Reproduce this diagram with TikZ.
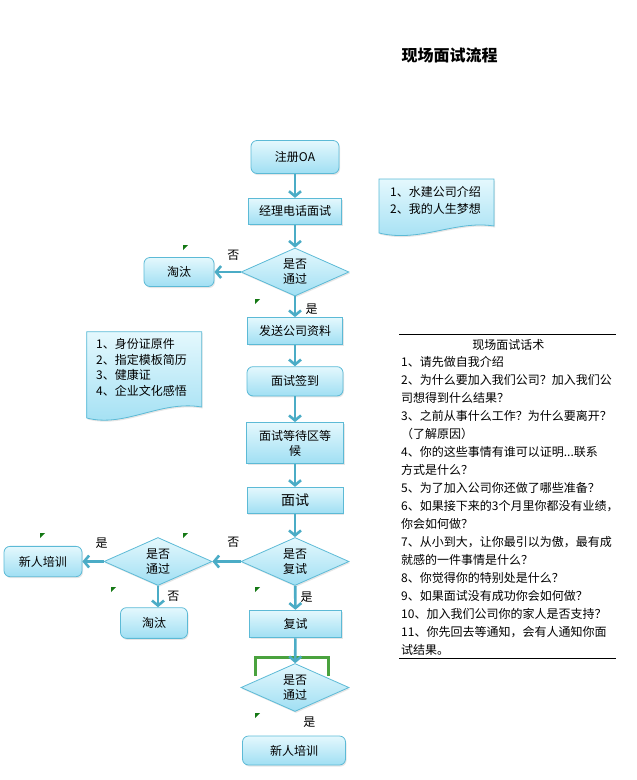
\documentclass[tikz,border=0pt]{standalone}
\usepackage{fontspec}
\setmainfont{Noto Sans CJK SC}
\usepackage{tikz}
\usetikzlibrary{shapes,arrows,positioning,calc,shadows,arrows.meta}
\definecolor{lineblue}{RGB}{75,172,198}
\definecolor{edgeblue}{RGB}{92,186,214}
\definecolor{filltop}{RGB}{228,248,253}
\definecolor{fillbot}{RGB}{160,223,243}
\definecolor{markgreen}{RGB}{20,120,20}
\definecolor{brackgreen}{RGB}{74,162,62}
\newcommand{\flagat}[1]{\fill[markgreen] (#1) -- ++(5,0) -- ++(-5,5) -- cycle;}

\begin{document}
\begin{tikzpicture}[x=1pt,y=-1pt,
    box/.style={draw=edgeblue, line width=0.8pt, top color=filltop, bottom color=fillbot,
        font=\fontsize{12}{15}\selectfont, align=center, inner sep=0pt,
        drop shadow={opacity=0.2, shadow xshift=1pt, shadow yshift=-1.5pt}},
    proc/.style={box, rectangle},
    rproc/.style={box, rounded corners=6pt},
    decide/.style={box, diamond, aspect=2.25, minimum width=108pt, minimum height=48pt},
    flow/.style={lineblue, line width=2.6pt, -{Straight Barb[length=5pt,width=12pt]}},
    yn/.style={font=\fontsize{12}{12}\selectfont, inner sep=0pt},
    doc/.style={draw=edgeblue, line width=0.8pt, top color=filltop, bottom color=fillbot,
        drop shadow={opacity=0.2, shadow xshift=1pt, shadow yshift=-1.5pt}}]
    \useasboundingbox (0,0) rectangle (637,780);

    \node[font=\fontsize{16}{16}\selectfont\bfseries] (title) at (449.7,55) {现场面试流程};

    % green bracket behind the last diamond
    \draw[brackgreen, line width=3pt] (255,676) -- (255,657.3) -- (328.3,657.3) -- (328.3,676);

    % main column
    \node[rproc, minimum width=88pt, minimum height=33pt] (reg) at (295,157) {注册OA};
    \node[proc, minimum width=93pt, minimum height=26pt] (call) at (295,211.3) {经理电话面试};
    \node[decide] (pass1) at (295,272) {是否\\通过};
    \node[rproc, minimum width=70pt, minimum height=29pt] (out1) at (179,272) {淘汰};
    \node[proc, minimum width=95pt, minimum height=27pt] (send) at (295,331) {发送公司资料};
    \node[rproc, minimum width=96pt, minimum height=29.3pt] (sign) at (295,381.3) {面试签到};
    \node[proc, minimum width=97pt, minimum height=41pt] (wait) at (295,443) {面试等待区等\\候};
    \node[proc, minimum width=96pt, minimum height=26pt, font=\fontsize{14}{14}\selectfont] (itv) at (295,500.3) {面试};
    \node[decide] (retest) at (295,561.5) {是否\\复试};
    \node[decide] (pass2) at (158,561.5) {是否\\通过};
    \node[rproc, minimum width=78pt, minimum height=30.3pt] (train1) at (43,561.5) {新人培训};
    \node[rproc, minimum width=67pt, minimum height=30.7pt] (out2) at (154,623) {淘汰};
    \node[proc, minimum width=92pt, minimum height=27.7pt] (redo) at (295.5,624) {复试};
    \node[decide] (pass3) at (295,687.5) {是否\\通过};
    \node[rproc, minimum width=103pt, minimum height=29pt] (train2) at (294,750.5) {新人培训};

    % connectors
    \draw[flow] (reg) -- (call);
    \draw[flow] (call) -- (pass1);
    \draw[flow] (pass1) -- (out1);
    \draw[flow] (pass1) -- (send);
    \draw[flow] (send) -- (sign);
    \draw[flow] (sign) -- (wait);
    \draw[flow] (wait) -- (itv);
    \draw[flow] (itv) -- (retest);
    \draw[flow] (retest) -- (pass2);
    \draw[flow] (pass2) -- (train1);
    \draw[flow] (pass2.south) -- (pass2.south |- out2.north);
    \draw[flow] (retest) -- (redo);
    \draw[flow] (redo) -- (pass3);

    % yes / no
    \node[yn] (no1) at (233.3,255) {否};
    \node[yn] (yes1) at (311.7,309.3) {是};
    \node[yn] (yes2) at (101.7,542.7) {是};
    \node[yn] (no2) at (233.3,542.7) {否};
    \node[yn] (no3) at (173.3,596) {否};
    \node[yn] (yes3) at (306.7,596.7) {是};
    \node[yn] (yes4) at (309.3,721.7) {是};

    % comment flags
    \flagat{183,245}
    \flagat{255,299}
    \flagat{40,533}
    \flagat{183,533}
    \flagat{111,587}
    \flagat{255,587}
    \flagat{255,713}

    % notes
    \draw[doc] (379,179) -- (494,179) -- (494,226)
        .. controls (455,220) and (420,243) .. (379,233) -- cycle;
    \node[anchor=west, align=left, inner sep=0pt, font=\fontsize{12}{16.7}\selectfont] (intro) at (390,200.6)
        {1、水建公司介绍\\2、我的人生梦想};
    \draw[doc] (86.7,331.7) -- (201.7,331.7) -- (201.7,407)
        .. controls (160,400) and (125,428) .. (86.7,418) -- cycle;
    \node[anchor=west, align=left, inner sep=0pt, font=\fontsize{12}{15.6}\selectfont] (items) at (96,367.5)
        {1、身份证原件\\2、指定模板简历\\3、健康证\\4、企业文化感悟};

    % script
    \draw (399,334.3) -- (615.7,334.3);
    \draw (399,658.3) -- (615.7,658.3);
    \node[font=\fontsize{12}{12}\selectfont, inner sep=0pt] (talk) at (508.3,345) {现场面试话术};
    \node[anchor=west, align=left, inner sep=0pt, font=\fontsize{12}{18}\selectfont] (asks) at (401,506.2)
        {1、请先做自我介绍\\
         2、为什么要加入我们公司？加入我们公\\
         司想得到什么结果？\\
         3、之前从事什么工作？为什么要离开？\\
         （了解原因）\\
         4、你的这些事情有谁可以证明...联系\\
         方式是什么？\\
         5、为了加入公司你还做了哪些准备？\\
         6、如果接下来的3个月里你都没有业绩，\\
         你会如何做？\\
         7、从小到大，让你最引以为傲，最有成\\
         就感的一件事情是什么？\\
         8、你觉得你的特别处是什么？\\
         9、如果面试没有成功你会如何做？\\
         10、加入我们公司你的家人是否支持？\\
         11、你先回去等通知，会有人通知你面\\
         试结果。};
\end{tikzpicture}
\end{document}
